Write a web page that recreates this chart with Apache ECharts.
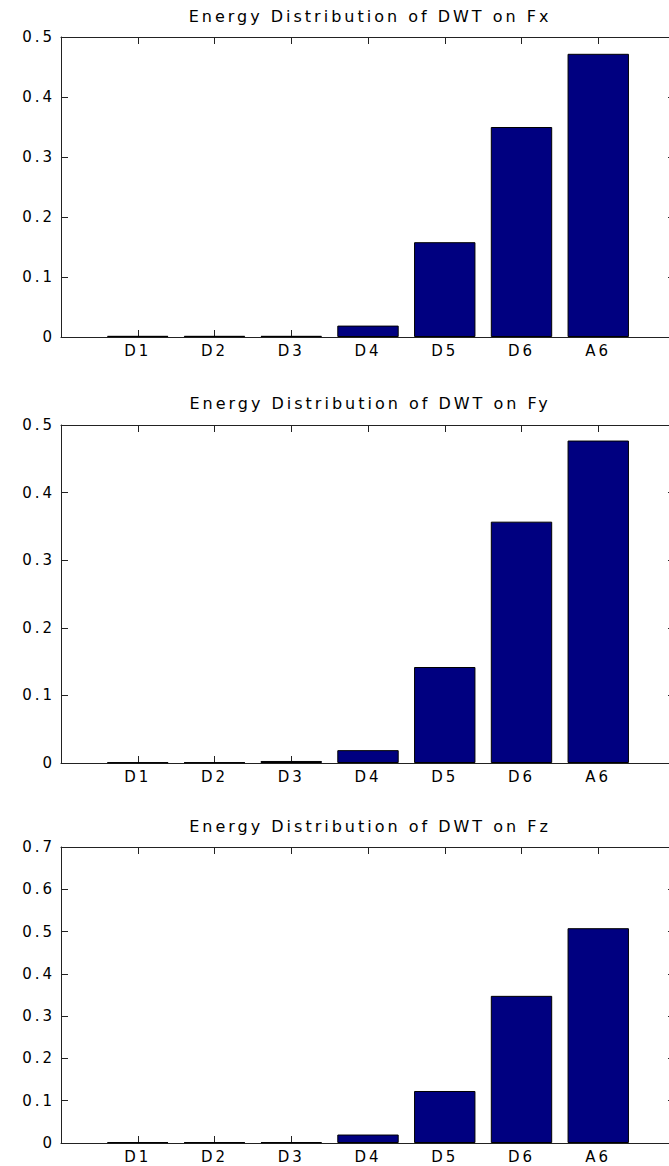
<!DOCTYPE html>
<html>
<head>
<meta charset="utf-8">
<script src="https://cdn.jsdelivr.net/npm/echarts@6/dist/echarts.min.js"></script>
<style>
html,body{margin:0;padding:0;background:#fff;}
#c{width:669px;height:1166px;}
#c text{letter-spacing:3px;}
</style>
</head>
<body>
<div id="c"></div>
<script>
const categories = ['D1', 'D2', 'D3', 'D4', 'D5', 'D6', 'A6'];
const titles = ['Energy Distribution of DWT on Fx', 'Energy Distribution of DWT on Fy', 'Energy Distribution of DWT on Fz'];
const fxValues = [0.002, 0.002, 0.002, 0.019, 0.158, 0.350, 0.472];
const fyValues = [0.001, 0.001, 0.003, 0.019, 0.142, 0.357, 0.477];
const fzValues = [0.002, 0.002, 0.002, 0.020, 0.123, 0.348, 0.508];
const yMax = [0.5, 0.5, 0.7];
const yInterval = 0.1;

const seriesValues = [fxValues, fyValues, fzValues];
// MATLAB-style x positions 0..8 with bars at 1..7
const xCats = [''].concat(categories, ['']);

const grids = [
  {left: 61, width: 614, top: 37, height: 300, outerBoundsMode: 'none', containLabel: false},
  {left: 61, width: 614, top: 425, height: 338, outerBoundsMode: 'none', containLabel: false},
  {left: 61, width: 614, top: 847, height: 296, outerBoundsMode: 'none', containLabel: false}
];
const titleTops = [8, 395, 818];

const fontFamily = 'DejaVu Sans';
const axisColor = '#222';
const fs = 15;
const tickLen = 7;

const option = {
  animation: false,
  backgroundColor: '#fff',
  title: titles.map((t, i) => ({
    text: t,
    left: 370, top: titleTops[i],
    textAlign: 'center',
    padding: 0,
    textStyle: {fontFamily, fontSize: 16, fontWeight: 'normal', color: '#000'}
  })),
  grid: grids,
  xAxis: [],
  yAxis: [],
  series: []
};

for (let i = 0; i < 3; i++) {
  option.xAxis.push({
    type: 'category', gridIndex: i, data: xCats, boundaryGap: false, position: 'bottom',
    axisLine: {show: true, lineStyle: {color: axisColor, width: 1}},
    axisTick: {show: true, inside: true, length: tickLen, interval: 0, lineStyle: {color: axisColor}},
    axisLabel: {show: true, interval: 0, color: '#000', fontFamily, fontSize: fs, margin: 6},
    splitLine: {show: false}
  });
  option.xAxis.push({
    type: 'category', gridIndex: i, data: xCats, boundaryGap: false, position: 'top',
    axisLine: {show: true, onZero: false, lineStyle: {color: axisColor, width: 1}},
    axisTick: {show: true, inside: true, length: tickLen, interval: 0, lineStyle: {color: axisColor}},
    axisLabel: {show: false},
    splitLine: {show: false}
  });
  option.yAxis.push({
    type: 'value', gridIndex: i, min: 0, max: yMax[i], interval: yInterval, position: 'left',
    axisLine: {show: true, lineStyle: {color: axisColor, width: 1}},
    axisTick: {show: true, inside: true, length: tickLen, lineStyle: {color: axisColor}},
    axisLabel: {show: true, color: '#000', fontFamily, fontSize: fs, margin: 6},
    splitLine: {show: false}
  });
  option.yAxis.push({
    type: 'value', gridIndex: i, min: 0, max: yMax[i], interval: yInterval, position: 'right',
    axisLine: {show: true, lineStyle: {color: axisColor, width: 1}},
    axisTick: {show: true, inside: true, length: tickLen, lineStyle: {color: axisColor}},
    axisLabel: {show: false},
    splitLine: {show: false}
  });
  option.series.push({
    type: 'bar',
    xAxisIndex: i * 2, yAxisIndex: i * 2,
    data: [null].concat(seriesValues[i], [null]),
    barWidth: '80%',
    itemStyle: {color: '#000080', borderColor: '#000', borderWidth: 1}
  });
}

const chart = echarts.init(document.getElementById('c'), null, {renderer: 'svg'});
chart.setOption(option);
</script>
</body>
</html>
